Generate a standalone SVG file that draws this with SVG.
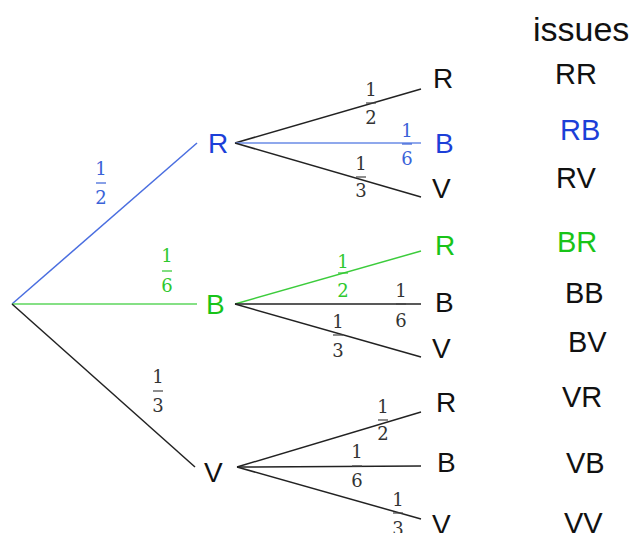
<svg xmlns="http://www.w3.org/2000/svg" width="638" height="533" viewBox="0 0 638 533">
<style>
  .lbl { font-family: "Liberation Sans", Arial, sans-serif; font-size: 28px; fill: #111; }
  .iss { font-family: "Liberation Sans", Arial, sans-serif; font-size: 29px; fill: #111; }
  .frac { font-family: "DejaVu Serif", "Liberation Serif", serif; font-size: 18px; fill: #333; text-anchor: middle; }
  .edge { stroke: #222; stroke-width: 1.5; fill: none; }
  .bar { stroke: #444; stroke-width: 1.2; }
  .blue { fill: #1c3fd8; }
  .green { fill: #18c418; }
  .fblue { fill: #3a62d8; }
  .fgreen { fill: #2ec82e; }
</style>
<rect width="638" height="533" fill="#fff"/>
<g id="connectors">
  <line class="edge" x1="12" y1="304" x2="197" y2="143" style="stroke:#4a6ee0"/>
  <line class="edge" x1="12" y1="304" x2="197" y2="304" style="stroke:#5cd65c"/>
  <line class="edge" x1="12" y1="304" x2="195" y2="467"/>
  <line class="edge" x1="235" y1="143" x2="421" y2="89"/>
  <line class="edge" x1="235" y1="143" x2="421" y2="143" style="stroke:#6a8be6"/>
  <line class="edge" x1="235" y1="143" x2="421" y2="197"/>
  <line class="edge" x1="235" y1="304" x2="421" y2="251" style="stroke:#3ccc3c"/>
  <line class="edge" x1="235" y1="304" x2="421" y2="304"/>
  <line class="edge" x1="235" y1="304" x2="421" y2="357"/>
  <line class="edge" x1="237" y1="467" x2="421" y2="412"/>
  <line class="edge" x1="237" y1="467" x2="421" y2="466"/>
  <line class="edge" x1="237" y1="467" x2="421" y2="519"/>
</g>
<g id="probabilities">
  <g id="p-R"><text class="frac fblue" x="101" y="175">1</text><line class="bar" x1="96" y1="183" x2="106" y2="183" style="stroke:#3a62d8"/><text class="frac fblue" x="101" y="204">2</text></g>
  <g id="p-B"><text class="frac fgreen" x="167" y="262">1</text><line class="bar" x1="162" y1="271" x2="172" y2="271" style="stroke:#2ec82e"/><text class="frac fgreen" x="167" y="292">6</text></g>
  <g id="p-V"><text class="frac" x="158" y="383">1</text><line class="bar" x1="153" y1="391" x2="163" y2="391"/><text class="frac" x="158" y="412">3</text></g>
  <g id="p-RR"><text class="frac" x="371" y="96">1</text><line class="bar" x1="366" y1="103" x2="376" y2="103"/><text class="frac" x="371" y="124">2</text></g>
  <g id="p-RB"><text class="frac fblue" x="407" y="137">1</text><line class="bar" x1="402" y1="144" x2="412" y2="144" style="stroke:#3a62d8"/><text class="frac fblue" x="407" y="165">6</text></g>
  <g id="p-RV"><text class="frac" x="361" y="170">1</text><line class="bar" x1="356" y1="177" x2="366" y2="177"/><text class="frac" x="361" y="197">3</text></g>
  <g id="p-BR"><text class="frac fgreen" x="343" y="268">1</text><line class="bar" x1="338" y1="273" x2="348" y2="273" style="stroke:#2ec82e"/><text class="frac fgreen" x="343" y="297">2</text></g>
  <g id="p-BB"><text class="frac" x="401" y="297">1</text><line class="bar" x1="396" y1="304" x2="406" y2="304"/><text class="frac" x="401" y="327">6</text></g>
  <g id="p-BV"><text class="frac" x="338" y="328">1</text><line class="bar" x1="333" y1="335" x2="343" y2="335"/><text class="frac" x="338" y="357">3</text></g>
  <g id="p-VR"><text class="frac" x="383" y="413">1</text><line class="bar" x1="378" y1="420" x2="388" y2="420"/><text class="frac" x="383" y="440">2</text></g>
  <g id="p-VB"><text class="frac" x="357" y="458">1</text><line class="bar" x1="352" y1="466" x2="362" y2="466"/><text class="frac" x="357" y="487">6</text></g>
  <g id="p-VV"><text class="frac" x="398" y="506">1</text><line class="bar" x1="393" y1="513" x2="403" y2="513"/><text class="frac" x="398" y="535">3</text></g>
</g>
<g id="n-R"><text class="lbl blue" x="208" y="153">R</text></g>
<g id="n-B"><text class="lbl green" x="206" y="314">B</text></g>
<g id="n-V"><text class="lbl" x="204" y="482">V</text></g>
<g id="n-RR"><text class="lbl" x="433" y="88">R</text></g>
<g id="n-RB"><text class="lbl blue" x="435" y="153">B</text></g>
<g id="n-RV"><text class="lbl" x="432" y="198">V</text></g>
<g id="n-BR"><text class="lbl green" x="435" y="255">R</text></g>
<g id="n-BB"><text class="lbl" x="435" y="312">B</text></g>
<g id="n-BV"><text class="lbl" x="432" y="358">V</text></g>
<g id="n-VR"><text class="lbl" x="436" y="412">R</text></g>
<g id="n-VB"><text class="lbl" x="437" y="472">B</text></g>
<g id="n-VV"><text class="lbl" x="432" y="534">V</text></g>
<g id="issues">
  <text class="iss" x="533" y="41" style="font-size:34px">issues</text>
  <text class="iss" x="555" y="84">RR</text>
  <text class="iss blue" x="560" y="140">RB</text>
  <text class="iss" x="556" y="188">RV</text>
  <text class="iss green" x="557" y="252">BR</text>
  <text class="iss" x="565" y="303">BB</text>
  <text class="iss" x="568" y="352">BV</text>
  <text class="iss" x="562" y="407">VR</text>
  <text class="iss" x="566" y="473">VB</text>
  <text class="iss" x="564" y="533">VV</text>
</g>
</svg>
